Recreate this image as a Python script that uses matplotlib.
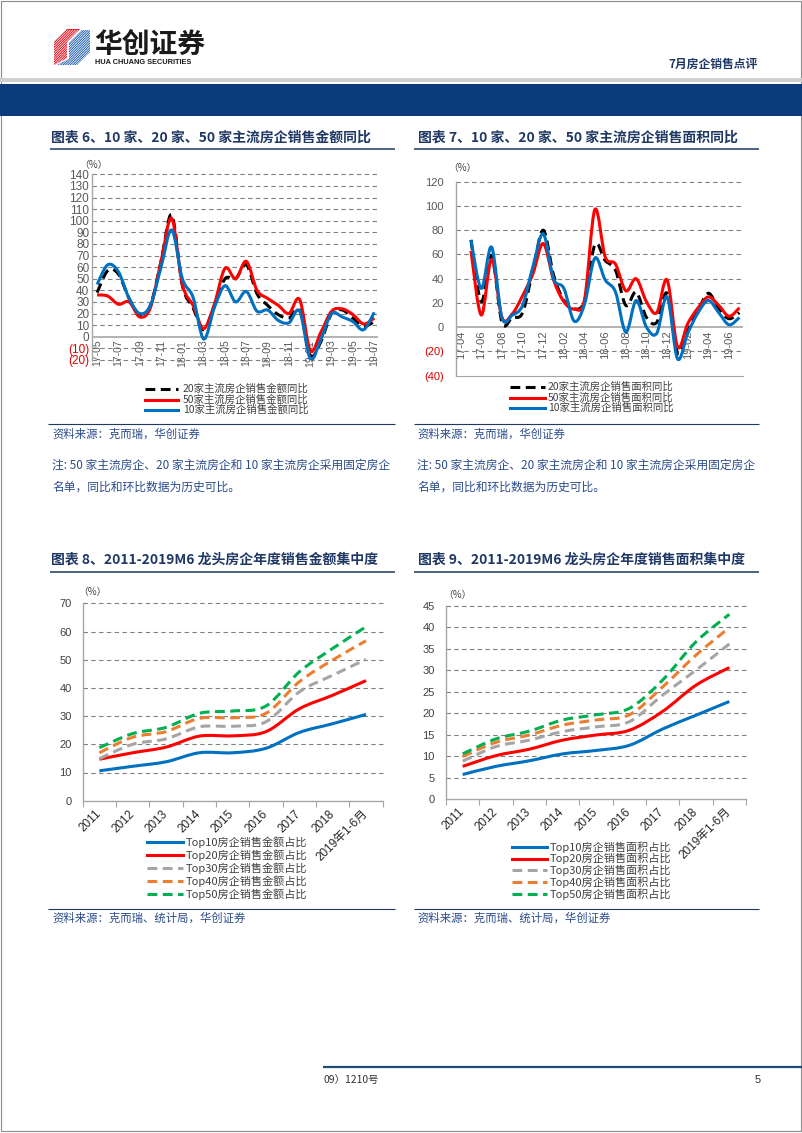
import numpy as np
import matplotlib
matplotlib.use('Agg')
import matplotlib.pyplot as plt
from matplotlib.path import Path
from matplotlib.patches import PathPatch, Polygon, Rectangle
from matplotlib.lines import Line2D
from matplotlib.transforms import offset_copy

plt.rcParams['font.family'] = ['Liberation Sans', 'Noto Sans CJK SC', 'DejaVu Sans']
CJK = ['Noto Sans CJK SC', 'DejaVu Sans']

# ---------------- data ----------------
months_amt = ['17-05', '17-06', '17-07', '17-08', '17-09', '17-10', '17-11', '17-12',
              '18-01', '18-02', '18-03', '18-04', '18-05', '18-06', '18-07', '18-08',
              '18-09', '18-10', '18-11', '18-12', '19-01', '19-02', '19-03', '19-04',
              '19-05', '19-06', '19-07']
amt20 = [38, 57, 54, 33, 19, 27, 65, 105, 44, 25, 6, 27, 50, 50, 62, 37, 27, 19, 16, 23,
         -16, -4, 20, 23, 16, 9, 13]
amt50 = [36, 35, 28, 30, 17, 25, 65, 102, 45, 27, 7, 28, 59, 50, 65, 40, 33, 27, 20, 32,
         -12, 4, 22, 24, 19, 11, 16]
amt10 = [45, 62, 56, 33, 20, 27, 60, 92, 50, 34, -2, 25, 44, 30, 39, 22, 23, 14, 12, 22,
         -19, -2, 20, 17, 13, 6, 21]
amt_names = ['20家主流房企销售金额同比', '50家主流房企销售金额同比', '10家主流房企销售金额同比']

months_area = ['17-04', '17-05', '17-06', '17-07', '17-08', '17-09', '17-10', '17-11',
               '17-12', '18-01', '18-02', '18-03', '18-04', '18-05', '18-06', '18-07',
               '18-08', '18-09', '18-10', '18-11', '18-12', '19-01', '19-02', '19-03',
               '19-04', '19-05', '19-06', '19-07']
area20 = [None, 72, 21, 59, 4, 8, 12, 47, 80, 43, 22, 15, 22, 68, 55, 47, 18, 29, 8, 4, 28,
          -21, -3, 14, 28, 15, 7, 12]
area50 = [None, 63, 10, 56, 8, 11, 26, 44, 69, 39, 21, 15, 23, 97, 58, 52, 30, 40, 21, 12, 39,
          -16, 3, 16, 25, 18, 9, 16]
area10 = [None, 72, 32, 66, 8, 10, 18, 50, 77, 40, 32, 5, 19, 57, 39, 29, -4, 22, 0, -5, 25,
          -26, -5, 12, 22, 12, 2, 8]
area_names = ['20家主流房企销售面积同比', '50家主流房企销售面积同比', '10家主流房企销售面积同比']

years = ['2011', '2012', '2013', '2014', '2015', '2016', '2017', '2018', '2019年1-6月']
top10_amt = [10.6, 12.2, 13.8, 17.0, 17.0, 18.6, 24.2, 27.3, 30.6]
top20_amt = [14.7, 17.0, 19.0, 22.9, 23.0, 24.5, 32.6, 37.4, 42.6]
top30_amt = [14.9, 20.0, 21.9, 26.2, 26.4, 28.0, 38.6, 44.5, 50.1]
top40_amt = [17.0, 22.5, 24.5, 29.2, 29.4, 31.0, 42.2, 49.9, 56.7]
top50_amt = [18.8, 23.8, 26.0, 31.0, 31.8, 33.6, 45.7, 54.0, 61.7]
conc_amt_names = ['Top10房企销售金额占比', 'Top20房企销售金额占比', 'Top30房企销售金额占比',
                  'Top40房企销售金额占比', 'Top50房企销售金额占比']

top10_area = [5.7, 7.6, 8.9, 10.5, 11.3, 12.5, 16.3, 19.5, 22.7]
top20_area = [7.6, 10.1, 11.6, 13.7, 14.9, 16.0, 20.4, 26.5, 30.6]
top30_area = [8.8, 12.2, 13.7, 15.7, 16.8, 18.0, 24.2, 30.0, 36.1]
top40_area = [9.9, 13.2, 14.9, 17.2, 18.4, 19.6, 26.1, 33.5, 39.9]
top50_area = [10.5, 14.0, 15.8, 18.4, 19.6, 21.1, 27.7, 36.6, 43.0]
conc_area_names = ['Top10房企销售面积占比', 'Top20房企销售面积占比', 'Top30房企销售面积占比',
                   'Top40房企销售面积占比', 'Top50房企销售面积占比']

# ---------------- styles ----------------
NAVY = '#1F3864'
SRC = '#2B4C8C'
BLACK, RED, BLUE = '#000000', '#FF0000', '#0070C0'
GRAY, ORANGE, GREEN = '#A5A5A5', '#ED7D31', '#00B050'
DASH = (0, (3.2, 1.8))
LW = 2.2

W, H = 802, 1133
fig = plt.figure(figsize=(W / 100, H / 100), dpi=100)
fig.patch.set_facecolor('white')

bg = fig.add_axes([0, 0, 1, 1], zorder=0)
bg.set_xlim(0, W)
bg.set_ylim(H, 0)
bg.axis('off')


def add_ax(l, t, r, b):
    ax = fig.add_axes([l / W, 1 - b / H, (r - l) / W, (b - t) / H], zorder=2)
    ax.set_facecolor('none')
    return ax


def hline(x0, x1, y, color, lw):
    bg.plot([x0, x1], [y, y], color=color, lw=lw, solid_capstyle='butt')


def curve(ax, xs, ys, color, lw, ls, z):
    pts = [(x, y) for x, y in zip(xs, ys) if y is not None]
    n = len(pts)
    verts = [pts[0]]
    codes = [Path.MOVETO]
    for i in range(n - 1):
        p0 = pts[i - 1] if i > 0 else pts[i]
        p1 = pts[i]
        p2 = pts[i + 1]
        p3 = pts[i + 2] if i + 2 < n else pts[i + 1]
        c1 = (p1[0] + (p2[0] - p0[0]) / 6.0, p1[1] + (p2[1] - p0[1]) / 6.0)
        c2 = (p2[0] - (p3[0] - p1[0]) / 6.0, p2[1] - (p3[1] - p1[1]) / 6.0)
        verts += [c1, c2, p2]
        codes += [Path.CURVE4] * 3
    ax.add_patch(PathPatch(Path(verts, codes), fill=False, edgecolor=color, lw=lw,
                           linestyle=ls, capstyle='butt', joinstyle='round', zorder=z))


def legend(entries, x0, x1, xt, ys, fs):
    for (name, color, ls), y in zip(entries, ys):
        bg.add_line(Line2D([x0, x1], [y, y], color=color, lw=LW, linestyle=ls))
        bg.text(xt, y, name, fontsize=fs, color='#404040', va='center', ha='left',
                family=CJK)


def yoy_chart(box, cats, series, ylim, step, pad_pt, label_dy, ytick_fs, xfs, bottom_solid):
    ax = add_ax(*box)
    x = np.arange(len(cats))
    for s in ['top', 'right', 'bottom']:
        ax.spines[s].set_visible(False)
    ax.spines['left'].set_color('#A6A6A6')
    ax.spines['left'].set_linewidth(1.0)
    if bottom_solid:
        ax.spines['bottom'].set_visible(True)
        ax.spines['bottom'].set_color('#A6A6A6')
    ticks = list(range(ylim[0], ylim[1] + 1, step))
    for v in ticks:
        if v == 0:
            ax.axhline(0, color='#A6A6A6', lw=1.2, zorder=1)
        elif v == ylim[0] and bottom_solid:
            continue
        else:
            ax.axhline(v, color='#808080', lw=0.8, ls=(0, (4, 3)), zorder=1, clip_on=False)
    ax.set_ylim(*ylim)
    ax.set_xlim(-0.45, len(cats) - 0.65)
    ax.set_yticks(ticks)
    ax.set_yticklabels([f'({abs(v)})' if v < 0 else str(v) for v in ticks])
    for lab, v in zip(ax.get_yticklabels(), ticks):
        lab.set_color('#E00000' if v < 0 else '#595959')
        lab.set_fontsize(ytick_fs)
    ax.tick_params(axis='y', length=0, pad=pad_pt)
    ax.set_xticks([])
    tr = offset_copy(ax.transData, fig=fig, x=0, y=label_dy, units='dots')
    for i, m in enumerate(cats):
        if i % 2 == 0:
            ax.text(i, 0, m, transform=tr, rotation=90, ha='center', va='top',
                    fontsize=xfs, color='#595959', zorder=1)
    for ys, color, ls in series:
        curve(ax, x, ys, color, LW, ls, 3)
    return ax


def conc_chart(box, cats, series, ymax, step, pad_pt):
    ax = add_ax(*box)
    x = np.arange(len(cats))
    for s in ['top', 'right']:
        ax.spines[s].set_visible(False)
    for s in ['left', 'bottom']:
        ax.spines[s].set_color('#A6A6A6')
        ax.spines[s].set_linewidth(1.0)
    ticks = list(range(0, ymax + 1, step))
    for v in ticks[1:]:
        ax.axhline(v, color='#808080', lw=0.8, ls=(0, (4, 3)), zorder=1, clip_on=False)
    ax.set_ylim(0, ymax)
    ax.set_xlim(-0.5, len(cats) - 0.5)
    ax.set_yticks(ticks)
    ax.set_yticklabels([str(v) for v in ticks], fontsize=8, color='#404040')
    ax.tick_params(axis='y', length=0, pad=pad_pt)
    ax.set_xticks(np.arange(-0.5, len(cats), 1.0))
    ax.tick_params(axis='x', length=4, direction='out', color='#A6A6A6', labelbottom=False)
    tr = offset_copy(ax.transData, fig=fig, x=4, y=-7, units='dots')
    for i, c in enumerate(cats):
        ax.text(i, 0, c, transform=tr, rotation=45, ha='right', va='top', fontsize=8.5,
                color='#262626', family=['Liberation Sans', 'Noto Sans CJK SC'],
                rotation_mode='default')
    for ys, color, ls in series:
        curve(ax, x, ys, color, LW, ls, 3)
    return ax


# ---------------- page frame & header ----------------
bg.add_patch(Rectangle((0.5, 0.5), W - 1.5, H - 2.5, fill=False, ec='#8C8C8C', lw=0.8))
bg.add_patch(Rectangle((0, 77.5), W, 4, color='#CFCFCF', lw=0))
bg.add_patch(Rectangle((0, 83.5), W, 32, color='#0B3B7C', lw=0))

# logo icon
red_poly = Polygon([(54, 42), (67, 29), (80, 29), (67, 42), (67, 58), (54, 65)],
                   closed=True, fc='#E60012', ec='none')
blue_poly = Polygon([(69, 43), (82, 30), (90, 30), (90, 52), (77, 65), (57, 65), (69, 59)],
                    closed=True, fc='#1A5DAD', ec='none')
bg.add_patch(red_poly)
bg.add_patch(blue_poly)
for k in range(-12, 30):
    x0 = 40 + k * 2.4
    for poly in (red_poly, blue_poly):
        ln, = bg.plot([x0, x0 + 40], [70, 30], color='white', lw=0.55)
        ln.set_clip_path(poly)
bg.text(94, 45, '华创证券', fontsize=20, fontweight='bold', color='#1A1A1A', va='center',
        ha='left', family=CJK)
bg.text(95, 62, 'HUA CHUANG SECURITIES', fontsize=5.3, fontweight='bold', color='#1A1A1A',
        va='center', ha='left')
bg.text(758, 64, '7月房企销售点评', fontsize=8.5, fontweight='bold', color=NAVY, va='center',
        ha='right', family=CJK)

# ---------------- titles ----------------
titles = [(51, 138, '图表 6、10 家、20 家、50 家主流房企销售金额同比'),
          (418, 138, '图表 7、10 家、20 家、50 家主流房企销售面积同比'),
          (51, 560, '图表 8、2011-2019M6 龙头房企年度销售金额集中度'),
          (418, 560, '图表 9、2011-2019M6 龙头房企年度销售面积集中度')]
for x, y, t in titles:
    bg.text(x, y, t, fontsize=10, fontweight='bold', color=NAVY, va='center', ha='left',
            family=CJK)
hline(50, 395, 149, NAVY, 1.1)
hline(414, 759, 149, NAVY, 1.1)
hline(50, 395, 571.5, NAVY, 1.1)
hline(414, 759, 571.5, NAVY, 1.1)

# ---------------- sources & notes ----------------
for x0, x1 in [(48, 395), (414, 759)]:
    hline(x0, x1, 423.5, NAVY, 0.8)
    hline(x0, x1, 908.5, NAVY, 0.8)
for xs in [52, 417]:
    bg.text(xs, 434, '资料来源：克而瑞，华创证券', fontsize=8.2, color=SRC, va='center',
            ha='left', family=CJK)
    bg.text(xs, 465, '注: 50 家主流房企、20 家主流房企和 10 家主流房企采用固定房企',
            fontsize=8.5, color=SRC, va='center', ha='left', family=CJK)
    bg.text(xs, 487, '名单，同比和环比数据为历史可比。', fontsize=8.5, color=SRC,
            va='center', ha='left', family=CJK)
    bg.text(xs, 918, '资料来源：克而瑞、统计局，华创证券', fontsize=8.2, color=SRC,
            va='center', ha='left', family=CJK)

# footer
hline(323, 802, 1067, '#1F4E79', 1.6)
bg.text(323, 1080, '09）1210号', fontsize=7.5, color='#333333', va='center', ha='left',
        family=CJK)
bg.text(755, 1080, '5', fontsize=8, color='#333333', va='center', ha='left')

# ---------------- charts ----------------
# chart 6
yoy_chart((92.3, 174.3, 378, 359.9), months_amt,
          [(amt20, BLACK, DASH), (amt50, RED, '-'), (amt10, BLUE, '-')],
          (-20, 140), 10, 2.2, -3, 8.5, 7.5, False)
bg.text(79, 165, '（%）', fontsize=7, color='#404040', va='center', ha='left', family=CJK)
legend([(amt_names[0], BLACK, DASH), (amt_names[1], RED, '-'), (amt_names[2], BLUE, '-')],
       145, 178, 183, [389, 399.5, 410], 7.5)

# chart 7
yoy_chart((456, 181.7, 743, 375.7), months_area,
          [(area20, BLACK, DASH), (area50, RED, '-'), (area10, BLUE, '-')],
          (-40, 120), 20, 8.6, -3, 8, 8, True)
bg.text(448, 168, '（%）', fontsize=7, color='#404040', va='center', ha='left', family=CJK)
legend([(area_names[0], BLACK, DASH), (area_names[1], RED, '-'), (area_names[2], BLUE, '-')],
       510, 545, 548, [387, 397.5, 408], 7.5)

# chart 8
conc_chart((82.7, 603.3, 382.7, 800.7), years,
           [(top10_amt, BLUE, '-'), (top20_amt, RED, '-'), (top30_amt, GRAY, DASH),
            (top40_amt, ORANGE, DASH), (top50_amt, GREEN, DASH)], 70, 10, 8)
bg.text(78, 592, '（%）', fontsize=7, color='#404040', va='center', ha='left', family=CJK)
legend(list(zip(conc_amt_names, [BLUE, RED, GRAY, ORANGE, GREEN], ['-', '-', DASH, DASH, DASH])),
       147, 183, 186, [842, 855, 868, 881, 894], 8)

# chart 9
conc_chart((446, 605.7, 746, 799), years,
           [(top10_area, BLUE, '-'), (top20_area, RED, '-'), (top30_area, GRAY, DASH),
            (top40_area, ORANGE, DASH), (top50_area, GREEN, DASH)], 45, 5, 8)
bg.text(443, 595, '（%）', fontsize=7, color='#404040', va='center', ha='left', family=CJK)
legend(list(zip(conc_area_names, [BLUE, RED, GRAY, ORANGE, GREEN], ['-', '-', DASH, DASH, DASH])),
       512, 547, 550, [847, 858.5, 870, 882, 894], 8)

fig.savefig('out.png', dpi=100, facecolor='white')
